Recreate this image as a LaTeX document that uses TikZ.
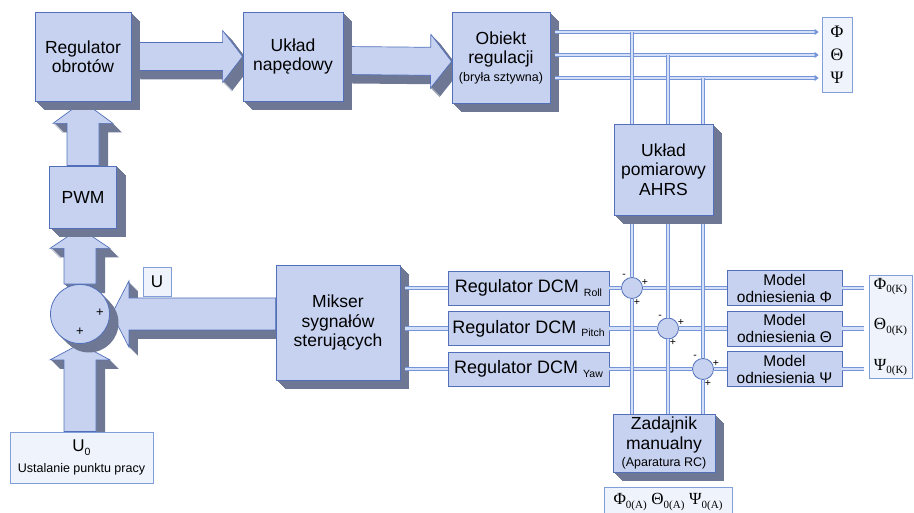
\documentclass[tikz,border=0pt]{standalone}
\usepackage{fontspec}
\setmainfont{Liberation Sans}
\newfontfamily\grkfont{Liberation Serif}
\usetikzlibrary{calc,shadows,arrows.meta}

\definecolor{facec}{RGB}{198,210,240}
\definecolor{bordc}{RGB}{82,112,186}
\definecolor{shadc}{RGB}{110,120,148}
\definecolor{linec}{RGB}{118,148,216}
\definecolor{lineinc}{RGB}{212,224,248}
\definecolor{labelc}{RGB}{239,244,252}
\definecolor{labelbc}{RGB}{128,158,216}

% lowered small index text
\newcommand{\lowsub}[1]{\raisebox{-0.4ex}{\fontsize{10.5}{10.5}\selectfont #1}}
\newcommand{\grksub}[2]{{\grkfont #1\raisebox{-0.45ex}{\fontsize{11}{11}\selectfont #2}}}

\pgfdeclarelayer{back}
\pgfsetlayers{back,main}

\tikzset{
  extrude/.style={
    general shadow={fill=shadc, shadow xshift=1pt, shadow yshift=-1pt},
    general shadow={fill=shadc, shadow xshift=2pt, shadow yshift=-2pt},
    general shadow={fill=shadc, shadow xshift=3pt, shadow yshift=-3pt},
    general shadow={fill=shadc, shadow xshift=4pt, shadow yshift=-4pt},
    general shadow={fill=shadc, shadow xshift=5pt, shadow yshift=-5pt},
    general shadow={fill=shadc, shadow xshift=6pt, shadow yshift=-6pt},
    general shadow={fill=shadc, shadow xshift=7pt, shadow yshift=-7pt},
    general shadow={fill=shadc, shadow xshift=8pt, shadow yshift=-8pt},
    general shadow={fill=shadc, shadow xshift=9pt, shadow yshift=-9pt}},
  box3d/.style={draw=bordc, fill=facec, line width=0.8pt, extrude,
    align=center, inner sep=0pt, font=\fontsize{17.5}{19.5}\selectfont},
  circle3d/.style={circle, draw=bordc, fill=facec, line width=0.8pt, extrude, inner sep=0pt},
  flatbox/.style={draw=bordc, fill=facec, line width=0.8pt, align=center,
    inner sep=0pt, font=\fontsize{18}{20}\selectfont},
  modelbox/.style={flatbox, font=\fontsize{15.5}{17}\selectfont},
  lblbox/.style={draw=labelbc, fill=labelc, line width=0.8pt, align=center, inner sep=0pt},
  sumc/.style={circle, draw=bordc, fill=facec, line width=0.8pt, minimum size=21pt, inner sep=0pt},
  sgn/.style={inner sep=0pt, font=\fontsize{10.5}{10.5}\selectfont},
  blockarr/.style={fill=facec, draw=bordc, line width=0.7pt, extrude},
  conn/.style={draw=linec, line width=0.9pt, double=lineinc, double distance=2.4pt},
  tipped/.style={-{Triangle[length=4pt,width=6pt]}}
}

% thick block arrow from #1 (tail) to #2 (tip); body half width #3,
% head half width #4, head length #5
\newcommand{\blockarrow}[5]{%
  \coordinate (ba-c) at ($(#2)!#5!(#1)$);
  \path[blockarr] ($(#1)!#3!90:(#2)$) -- ($(ba-c)!#3!90:(#2)$)
    -- ($(ba-c)!#4!90:(#2)$) -- (#2) -- ($(ba-c)!#4!-90:(#2)$)
    -- ($(ba-c)!#3!-90:(#2)$) -- ($(#1)!#3!-90:(#2)$) -- cycle;
}

\begin{document}
\begin{tikzpicture}[x=1pt,y=1pt]
\useasboundingbox (0,0) rectangle (914,512);

% upper chain
\node[box3d, minimum width=96pt, minimum height=89pt] (reg) at (83,455.5) {Regulator\\obrotów};
\node[box3d, minimum width=100pt, minimum height=89pt] (ukl) at (293,455.5) {Układ\\napędowy};
\node[box3d, minimum width=98pt, minimum height=91pt] (obj) at (501,454.5)
  {Obiekt\\regulacji\\[-2pt]{\fontsize{12.5}{14}\selectfont (bryła sztywna)}};
\node[lblbox, minimum width=30pt, minimum height=75pt,
  font=\grkfont\fontsize{17.5}{23}\selectfont] (out) at (837,457) {Φ\\Θ\\Ψ};

% measurement unit
\node[box3d, minimum width=99pt, minimum height=91pt] (ahrs) at (663.5,342.5) {Układ\\pomiarowy\\AHRS};

% left column
\node[box3d, minimum width=67pt, minimum height=62pt] (pwm) at (83,315) {PWM};
\node[circle3d, minimum size=59pt] (sum) at (80,198) {};
\node[sgn, font=\fontsize{13}{13}\selectfont] (sp1) at (100,199) {+};
\node[sgn, font=\fontsize{13}{13}\selectfont] (sp2) at (80,180) {+};
\node[lblbox, minimum width=28pt, minimum height=29pt, font=\fontsize{17}{19}\selectfont] (u) at (157,230.5) {U};
\node[lblbox, minimum width=143pt, minimum height=51pt, font=\fontsize{17}{19}\selectfont] (u0) at (81.5,54.5)
  {U\lowsub{0}\\[2pt]{\fontsize{12.5}{14}\selectfont Ustalanie punktu pracy}};

% mixer and attitude regulators
\node[box3d, minimum width=124pt, minimum height=115pt] (mix) at (338,189.5) {Mikser\\sygnałów\\sterujących};
\node[flatbox, minimum width=161pt, minimum height=34pt] (d1) at (528.5,224) {Regulator DCM \lowsub{Roll}};
\node[flatbox, minimum width=161pt, minimum height=34pt] (d2) at (528.5,183.5) {Regulator DCM \lowsub{Pitch}};
\node[flatbox, minimum width=161pt, minimum height=34pt] (d3) at (528.5,143) {Regulator DCM \lowsub{Yaw}};

% comparison points
\node[sumc] (c1) at (632,224) {};
\node[sumc] (c2) at (668,183.5) {};
\node[sumc] (c3) at (703,143) {};
\foreach \c in {c1,c2,c3}{
  \node[sgn] (\c m) at ($(\c)+(-8,12)$) {-};
  \node[sgn] (\c p) at ($(\c)+(13,6)$) {+};
  \node[sgn] (\c q) at ($(\c)+(5,-14)$) {+};
}

% reference models
\node[modelbox, minimum width=115pt, minimum height=35pt] (m1) at (784.5,224) {Model\\odniesienia Φ};
\node[modelbox, minimum width=115pt, minimum height=35pt] (m2) at (784.5,183.5) {Model\\odniesienia Θ};
\node[modelbox, minimum width=115pt, minimum height=35pt] (m3) at (784.5,143) {Model\\odniesienia Ψ};
\node[lblbox, minimum width=43pt, minimum height=103pt, font=\fontsize{17}{40.5}\selectfont] (kbox) at (890.5,185)
  {\grksub{Φ}{0(K)}\\\grksub{Θ}{0(K)}\\\grksub{Ψ}{0(K)}};

% manual set-point
\node[box3d, minimum width=102pt, minimum height=58pt] (zad) at (664,69)
  {Zadajnik\\manualny\\[-2pt]{\fontsize{12.5}{14}\selectfont (Aparatura RC)}};
\node[lblbox, minimum width=128pt, minimum height=30pt, font=\fontsize{17}{19}\selectfont] (abox) at (668,10)
  {\grksub{Φ}{0(A)} \grksub{Θ}{0(A)} \grksub{Ψ}{0(A)}};

% thick block arrows
\begin{pgfonlayer}{back}
  \coordinate (a2t) at ([yshift=-4pt]ukl.east);
  \coordinate (a2h) at ([yshift=-4pt]obj.west);
  \coordinate (a3h) at (pwm.north |- reg.south);
  \coordinate (a4h) at (sum.north |- pwm.south);
  \coordinate (a5t) at (sum.south |- u0.north);
  \coordinate (a6t) at (mix.west |- sum.east);
  \coordinate (a6h) at ([xshift=2pt]sum.east);
  \blockarrow{reg.east}{ukl.west}{14pt}{26pt}{20pt}
  \blockarrow{a2t}{a2h}{14pt}{27pt}{21pt}
  \blockarrow{pwm.north}{a3h}{16pt}{30pt}{22pt}
  \blockarrow{sum.north}{a4h}{16pt}{30pt}{20pt}
  \blockarrow{a5t}{sum.south}{16pt}{30pt}{16pt}
  \blockarrow{a6t}{a6h}{16pt}{33pt}{17pt}
\end{pgfonlayer}

% output signals
\coordinate (r1) at (0,480);
\coordinate (r2) at (0,457);
\coordinate (r3) at (0,434);
\foreach \r in {r1,r2,r3}
  \draw[conn, tipped, shorten >=3pt] ($(obj.east |- \r)+(5,0)$) -- (out.west |- \r);

% mixer to regulators, regulators to comparison points and models
\foreach \i in {1,2,3}{
  \draw[conn] ($(mix.east |- d\i)+(5,0)$) -- (d\i.west);
  \draw[conn] (d\i.east) -- (c\i.west);
  \draw[conn] (c\i.east) -- (m\i.west);
  \draw[conn] (m\i.east) -- ($(m\i.east)+(22,0)$);
}

% measured attitude and manual set-point
\draw[conn] (c1 |- r1) -- (c1 |- ahrs.north);
\draw[conn] (c2 |- r2) -- (c2 |- ahrs.north);
\draw[conn] (c3 |- r3) -- (c3 |- ahrs.north);
\foreach \c in {c1,c2,c3}{
  \draw[conn] ($(\c |- ahrs.south)+(0,-9)$) -- (\c.north);
  \draw[conn] (\c.south) -- (\c |- zad.north);
}
\end{tikzpicture}
\end{document}
